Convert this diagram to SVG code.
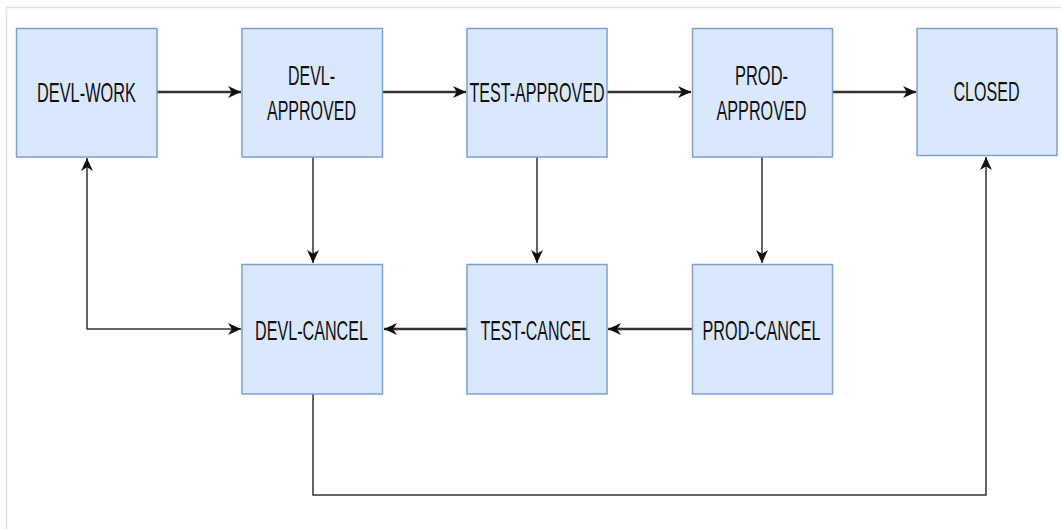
<svg xmlns="http://www.w3.org/2000/svg" width="1061" height="529" viewBox="0 0 1061 529">
<style>
.box{fill:#dae8fc;stroke:#7f9fcf;stroke-width:1.5}
.lbl{font-family:"Liberation Sans",Arial,sans-serif;font-size:28px;fill:#111;text-anchor:middle}
.c{fill:none;stroke:#333;stroke-width:1.5}
.h{stroke-width:2.6}
.frame{stroke:#e0e0e0;stroke-width:1.5;fill:none}
</style>
<defs>
<marker id="a" viewBox="0 0 12 12" refX="12" refY="6" markerWidth="13" markerHeight="13" markerUnits="userSpaceOnUse" orient="auto-start-reverse">
<path d="M0,0.5 L12,6 L0,11.5 L3.5,6 z" fill="#111"/>
</marker>
</defs>
<rect width="1061" height="529" fill="#fff"/>
<path class="frame" d="M6.5,529 V7.5 H1061"/>
<g id="connectors">
<path class="c h" d="M157,92 H241" marker-end="url(#a)"/>
<path class="c h" d="M383,92 H466" marker-end="url(#a)"/>
<path class="c h" d="M607,92 H691" marker-end="url(#a)"/>
<path class="c h" d="M833,92 H916" marker-end="url(#a)"/>
<path class="c h" d="M692,329 H608" marker-end="url(#a)"/>
<path class="c h" d="M467,329 H384" marker-end="url(#a)"/>
<path class="c" d="M313,157 V263" marker-end="url(#a)"/>
<path class="c" d="M537,157 V263" marker-end="url(#a)"/>
<path class="c" d="M762,157 V263" marker-end="url(#a)"/>
<path class="c" d="M87,158 V329 H241" stroke-width="2" marker-start="url(#a)" marker-end="url(#a)"/>
<path class="c" d="M313,394 V495 H986 V157" stroke-width="2" marker-end="url(#a)"/>
</g>
<g id="devl-work"><rect class="box" x="16.5" y="28.5" width="140.5" height="128.5"/><text class="lbl" x="86.5" y="102" textLength="99" lengthAdjust="spacingAndGlyphs">DEVL-WORK</text></g>
<g id="devl-approved"><rect class="box" x="242" y="28.5" width="140.5" height="128.5"/><text class="lbl" x="311.5" y="85" textLength="47" lengthAdjust="spacingAndGlyphs">DEVL-</text><text class="lbl" x="311.5" y="120" textLength="89" lengthAdjust="spacingAndGlyphs">APPROVED</text></g>
<g id="test-approved"><rect class="box" x="467" y="28.5" width="140" height="128.5"/><text class="lbl" x="537" y="101.5" textLength="135" lengthAdjust="spacingAndGlyphs">TEST-APPROVED</text></g>
<g id="prod-approved"><rect class="box" x="692.5" y="28.5" width="140" height="128.5"/><text class="lbl" x="761.5" y="85" textLength="53" lengthAdjust="spacingAndGlyphs">PROD-</text><text class="lbl" x="761.5" y="120" textLength="90" lengthAdjust="spacingAndGlyphs">APPROVED</text></g>
<g id="closed"><rect class="box" x="917" y="28.5" width="140" height="127"/><text class="lbl" x="986.5" y="101" textLength="66" lengthAdjust="spacingAndGlyphs">CLOSED</text></g>
<g id="devl-cancel"><rect class="box" x="242" y="264.5" width="140.5" height="129.5"/><text class="lbl" x="311.5" y="340" textLength="113" lengthAdjust="spacingAndGlyphs">DEVL-CANCEL</text></g>
<g id="test-cancel"><rect class="box" x="467" y="264.5" width="140" height="129.5"/><text class="lbl" x="535.5" y="340" textLength="110" lengthAdjust="spacingAndGlyphs">TEST-CANCEL</text></g>
<g id="prod-cancel"><rect class="box" x="692.5" y="264.5" width="140" height="129.5"/><text class="lbl" x="761.5" y="340" textLength="118" lengthAdjust="spacingAndGlyphs">PROD-CANCEL</text></g>
</svg>
